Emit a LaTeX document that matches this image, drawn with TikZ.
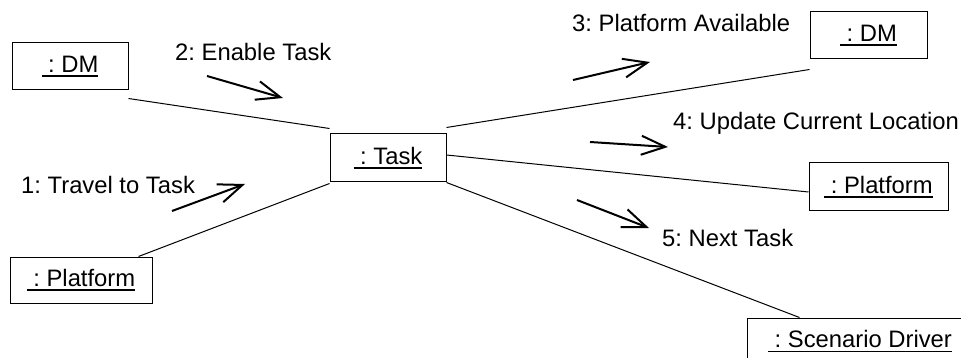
\documentclass[tikz,border=0pt]{standalone}
\usepackage{fontspec}
\setmainfont{Liberation Sans}
\usetikzlibrary{arrows.meta}
\newcommand{\objlabel}[1]{\setbox0\hbox{\ #1}\rlap{\rule[-4.5pt]{\wd0}{1.8pt}}\box0}
\frenchspacing
\begin{document}
\begin{tikzpicture}[x=1pt,y=1pt,yscale=-1,xscale=1,
	objbox/.style={draw, line width=1pt, inner sep=0pt, minimum height=47pt, font=\fontsize{23.8pt}{28pt}\selectfont},
	msg/.style={anchor=west, inner sep=0pt, font=\fontsize{23.8pt}{28pt}\selectfont},
	link/.style={line width=1pt},
	flow/.style={line width=2pt, -{Straight Barb[length=24pt,width=19pt]}}]
		\useasboundingbox (0,0) rectangle (961,358);
		\clip (0,0) rectangle (961,358);
		% objects
		\node [objbox, minimum width=116pt] (dmL) at (70,66.5) {\objlabel{: DM}};
		\node [objbox, minimum width=116pt, minimum height=48pt] (task) at (388,158) {\objlabel{: Task}};
		\node [objbox, minimum width=117pt] (dmR) at (868.5,35.5) {\objlabel{: DM}};
		\node [objbox, minimum width=139pt, minimum height=48pt] (platR) at (878.5,187) {\objlabel{: Platform}};
		\node [objbox, minimum width=142pt, minimum height=46pt] (platL) at (81,280) {\objlabel{: Platform}};
		\node [objbox, minimum width=226pt] (scen) at (860,341.5) {\objlabel{: Scenario Driver}};
		% links
		\draw [link] ([yshift=8pt]dmL.south east) -- ([yshift=-5pt]task.north west);
		\draw [link] ([xshift=-14pt]platL.north east) -- ([yshift=1pt]task.south west);
		\draw [link] ([yshift=-6pt]task.north east) -- ([yshift=10pt]dmR.south west);
		\draw [link] ([yshift=-3pt]task.east) -- ([yshift=5pt]platR.west);
		\draw [link] (task.south east) -- ([xshift=53pt]scen.north west);
		% messages
		\node [msg] (m1) at (21,185) {1: Travel to Task};
		\node [msg] (m2) at (175,52) {2: Enable Task};
		\node [msg] (m3) at (572,23) {3: Platform Available};
		\node [msg] (m4) at (673,123) {4: Update Current Location};
		\node [msg] (m5) at (662,238) {5: Next Task};
		\coordinate (a1s) at (172,211); \coordinate (a1e) at (245,184);
		\coordinate (a2s) at (207,76);  \coordinate (a2e) at (283,98);
		\coordinate (a3s) at (573,80);  \coordinate (a3e) at (650,62);
		\coordinate (a4s) at (590,142); \coordinate (a4e) at (668,147);
		\coordinate (a5s) at (577,200); \coordinate (a5e) at (649,228);
		\draw [flow] (a1s) -- (a1e);
		\draw [flow] (a2s) -- (a2e);
		\draw [flow] (a3s) -- (a3e);
		\draw [flow] (a4s) -- (a4e);
		\draw [flow] (a5s) -- (a5e);
\end{tikzpicture}
\end{document}
